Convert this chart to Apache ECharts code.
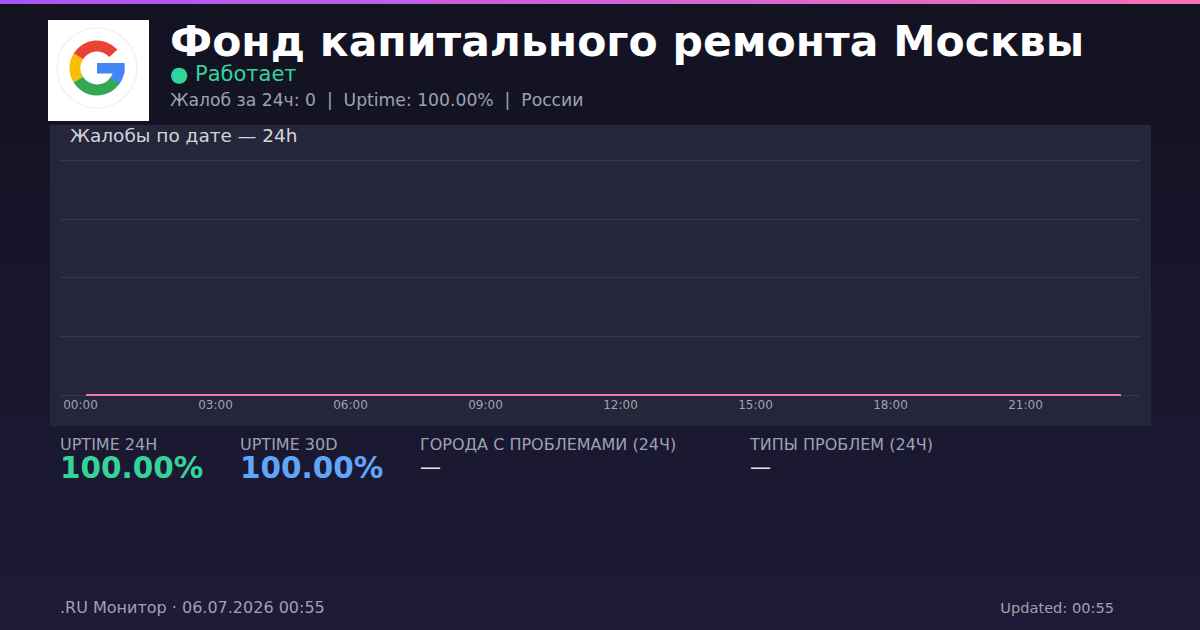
<!DOCTYPE html>
<html>
<head>
<meta charset="utf-8">
<script src="https://cdn.jsdelivr.net/npm/echarts@6/dist/echarts.min.js"></script>
<style>
html,body{margin:0;padding:0;background:#16152a;}
#c{width:1200px;height:630px;}
</style>
</head>
<body>
<div id="c"></div>
<script>
// ---- data ----
var hours = [0,1,2,3,4,5,6,7,8,9,10,11,12,13,14,15,16,17,18,19,20,21,22,23];
var complaints = [0,0,0,0,0,0,0,0,0,0,0,0,0,0,0,0,0,0,0,0,0,0,0,0];
var tickHours = [0,3,6,9,12,15,18,21];
var tickLabels = ["00:00","03:00","06:00","09:00","12:00","15:00","18:00","21:00"];
var titleText = "Фонд капитального ремонта Москвы";
var statusText = "● Работает";
var subText = "Жалоб за 24ч: 0  |  Uptime: 100.00%  |  России";
var chartTitle = "Жалобы по дате — 24h";
var statLabels = ["UPTIME 24H","UPTIME 30D","ГОРОДА С ПРОБЛЕМАМИ (24Ч)","ТИПЫ ПРОБЛЕМ (24Ч)"];
var statValues = ["100.00%","100.00%","—","—"];
var footerLeft = ".RU Монитор · 06.07.2026 00:55";
var footerRight = "Updated: 00:55";

var FONT = "DejaVu Sans";
var chart = echarts.init(document.getElementById('c'), null, {renderer:'svg', width:1200, height:630});

var seriesData = hours.map(function(h,i){ return [h, complaints[i]]; });

var cx = 97, cy = 68, R = 27.5, R0 = 16.5;
function deg(d){ return d*Math.PI/180; }

var graphics = [
  {type:'rect', z:-10, shape:{x:0,y:0,width:1200,height:630},
   style:{fill:new echarts.graphic.LinearGradient(0,0,0,1,[{offset:0,color:'#121221'},{offset:1,color:'#1e1a37'}])}},
  {type:'rect', z:-9, shape:{x:0,y:0,width:1200,height:4},
   style:{fill:new echarts.graphic.LinearGradient(0,0,1,0,[{offset:0,color:'#a855f7'},{offset:1,color:'#f472b6'}])}},
  {type:'rect', z:-9, shape:{x:50,y:125,width:1101,height:301}, style:{fill:'#252639'}},
  // logo
  {type:'rect', z:-8, shape:{x:48,y:20,width:101,height:101}, style:{fill:'#ffffff'}},
  {type:'circle', z:-7, shape:{cx:cx,cy:cy,r:40}, style:{fill:'#ffffff',stroke:'#f2f2f2',lineWidth:1.5}},
  {type:'sector', z:-6, shape:{cx:cx,cy:cy,r:R,r0:R0,startAngle:deg(-148),endAngle:deg(-42),clockwise:true}, style:{fill:'#ea4335'}},
  {type:'sector', z:-6, shape:{cx:cx,cy:cy,r:R,r0:R0,startAngle:deg(148),endAngle:deg(212),clockwise:true}, style:{fill:'#fbbc05'}},
  {type:'sector', z:-6, shape:{cx:cx,cy:cy,r:R,r0:R0,startAngle:deg(35),endAngle:deg(148),clockwise:true}, style:{fill:'#34a853'}},
  {type:'sector', z:-6, shape:{cx:cx,cy:cy,r:R,r0:R0,startAngle:deg(-8),endAngle:deg(36),clockwise:true}, style:{fill:'#4285f4'}},
  {type:'rect', z:-6, shape:{x:cx,y:cy-5,width:R,height:10.5}, style:{fill:'#4285f4'}},
  // header texts
  {type:'text', x:170, y:41, style:{text:titleText, font:'bold 42.5px "'+FONT+'"', lineHeight:40, fill:'#ffffff', verticalAlign:'middle'}},
  {type:'text', x:170, y:74, style:{text:statusText, font:'21px "'+FONT+'"', lineHeight:20, fill:'#34d399', verticalAlign:'middle'}},
  {type:'text', x:170, y:100, style:{text:subText, font:'17.2px "'+FONT+'"', lineHeight:17, fill:'#9ca3af', verticalAlign:'middle'}},
  {type:'text', x:70, y:135, style:{text:chartTitle, font:'18.5px "'+FONT+'"', lineHeight:18, fill:'#d1d5db', verticalAlign:'middle'}},
  // footer
  {type:'text', x:60, y:607, style:{text:footerLeft, font:'16px "'+FONT+'"', fill:'#9ca3af', verticalAlign:'middle'}},
  {type:'text', x:1114, y:607, style:{text:footerRight, font:'14.6px "'+FONT+'"', fill:'#9ca3af', verticalAlign:'middle', align:'right'}}
];
var statX = [60,240,420,750];
var statColors = ['#34d399','#60a5fa','#e5e7eb','#e5e7eb'];
statLabels.forEach(function(l,i){
  graphics.push({type:'text', x:statX[i], y:444, style:{text:l, font:'16px "'+FONT+'"', lineHeight:16, fill:'#9ca3af', verticalAlign:'middle'}});
  var isDash = statValues[i] === '—';
  graphics.push({type:'text', x:statX[i], y: isDash ? 467 : 468, style:{text:statValues[i], font:(isDash?'21px "':'bold 29.5px "')+FONT+'"', lineHeight:isDash?18:27, fill:statColors[i], verticalAlign:'middle'}});
});

chart.setOption({
  animation:false,
  backgroundColor:'transparent',
  graphic: graphics,
  grid:{left:60, right:60, top:160, bottom:235, containLabel:false},
  xAxis:{
    type:'value', min:-26/45, max:23+19/45,
    axisLine:{show:false}, axisTick:{show:false}, splitLine:{show:false},
    axisLabel:{
      customValues: tickHours,
      formatter:function(v){ var i = tickHours.indexOf(Math.round(v)); return i>=0 ? tickLabels[i] : ''; },
      color:'#9ca3af', fontSize:12, fontFamily:FONT, margin:4, padding:[0,11,0,0]
    }
  },
  yAxis:{
    type:'value', min:0, max:4, interval:1,
    axisLine:{show:false}, axisTick:{show:false}, axisLabel:{show:false},
    splitLine:{lineStyle:{color:'#363849', width:1}}
  },
  series:[{
    type:'line', data:seriesData, showSymbol:false, symbol:'none',
    lineStyle:{color:'#f472b6', width:2}, z:5
  }]
});
</script>
</body>
</html>
